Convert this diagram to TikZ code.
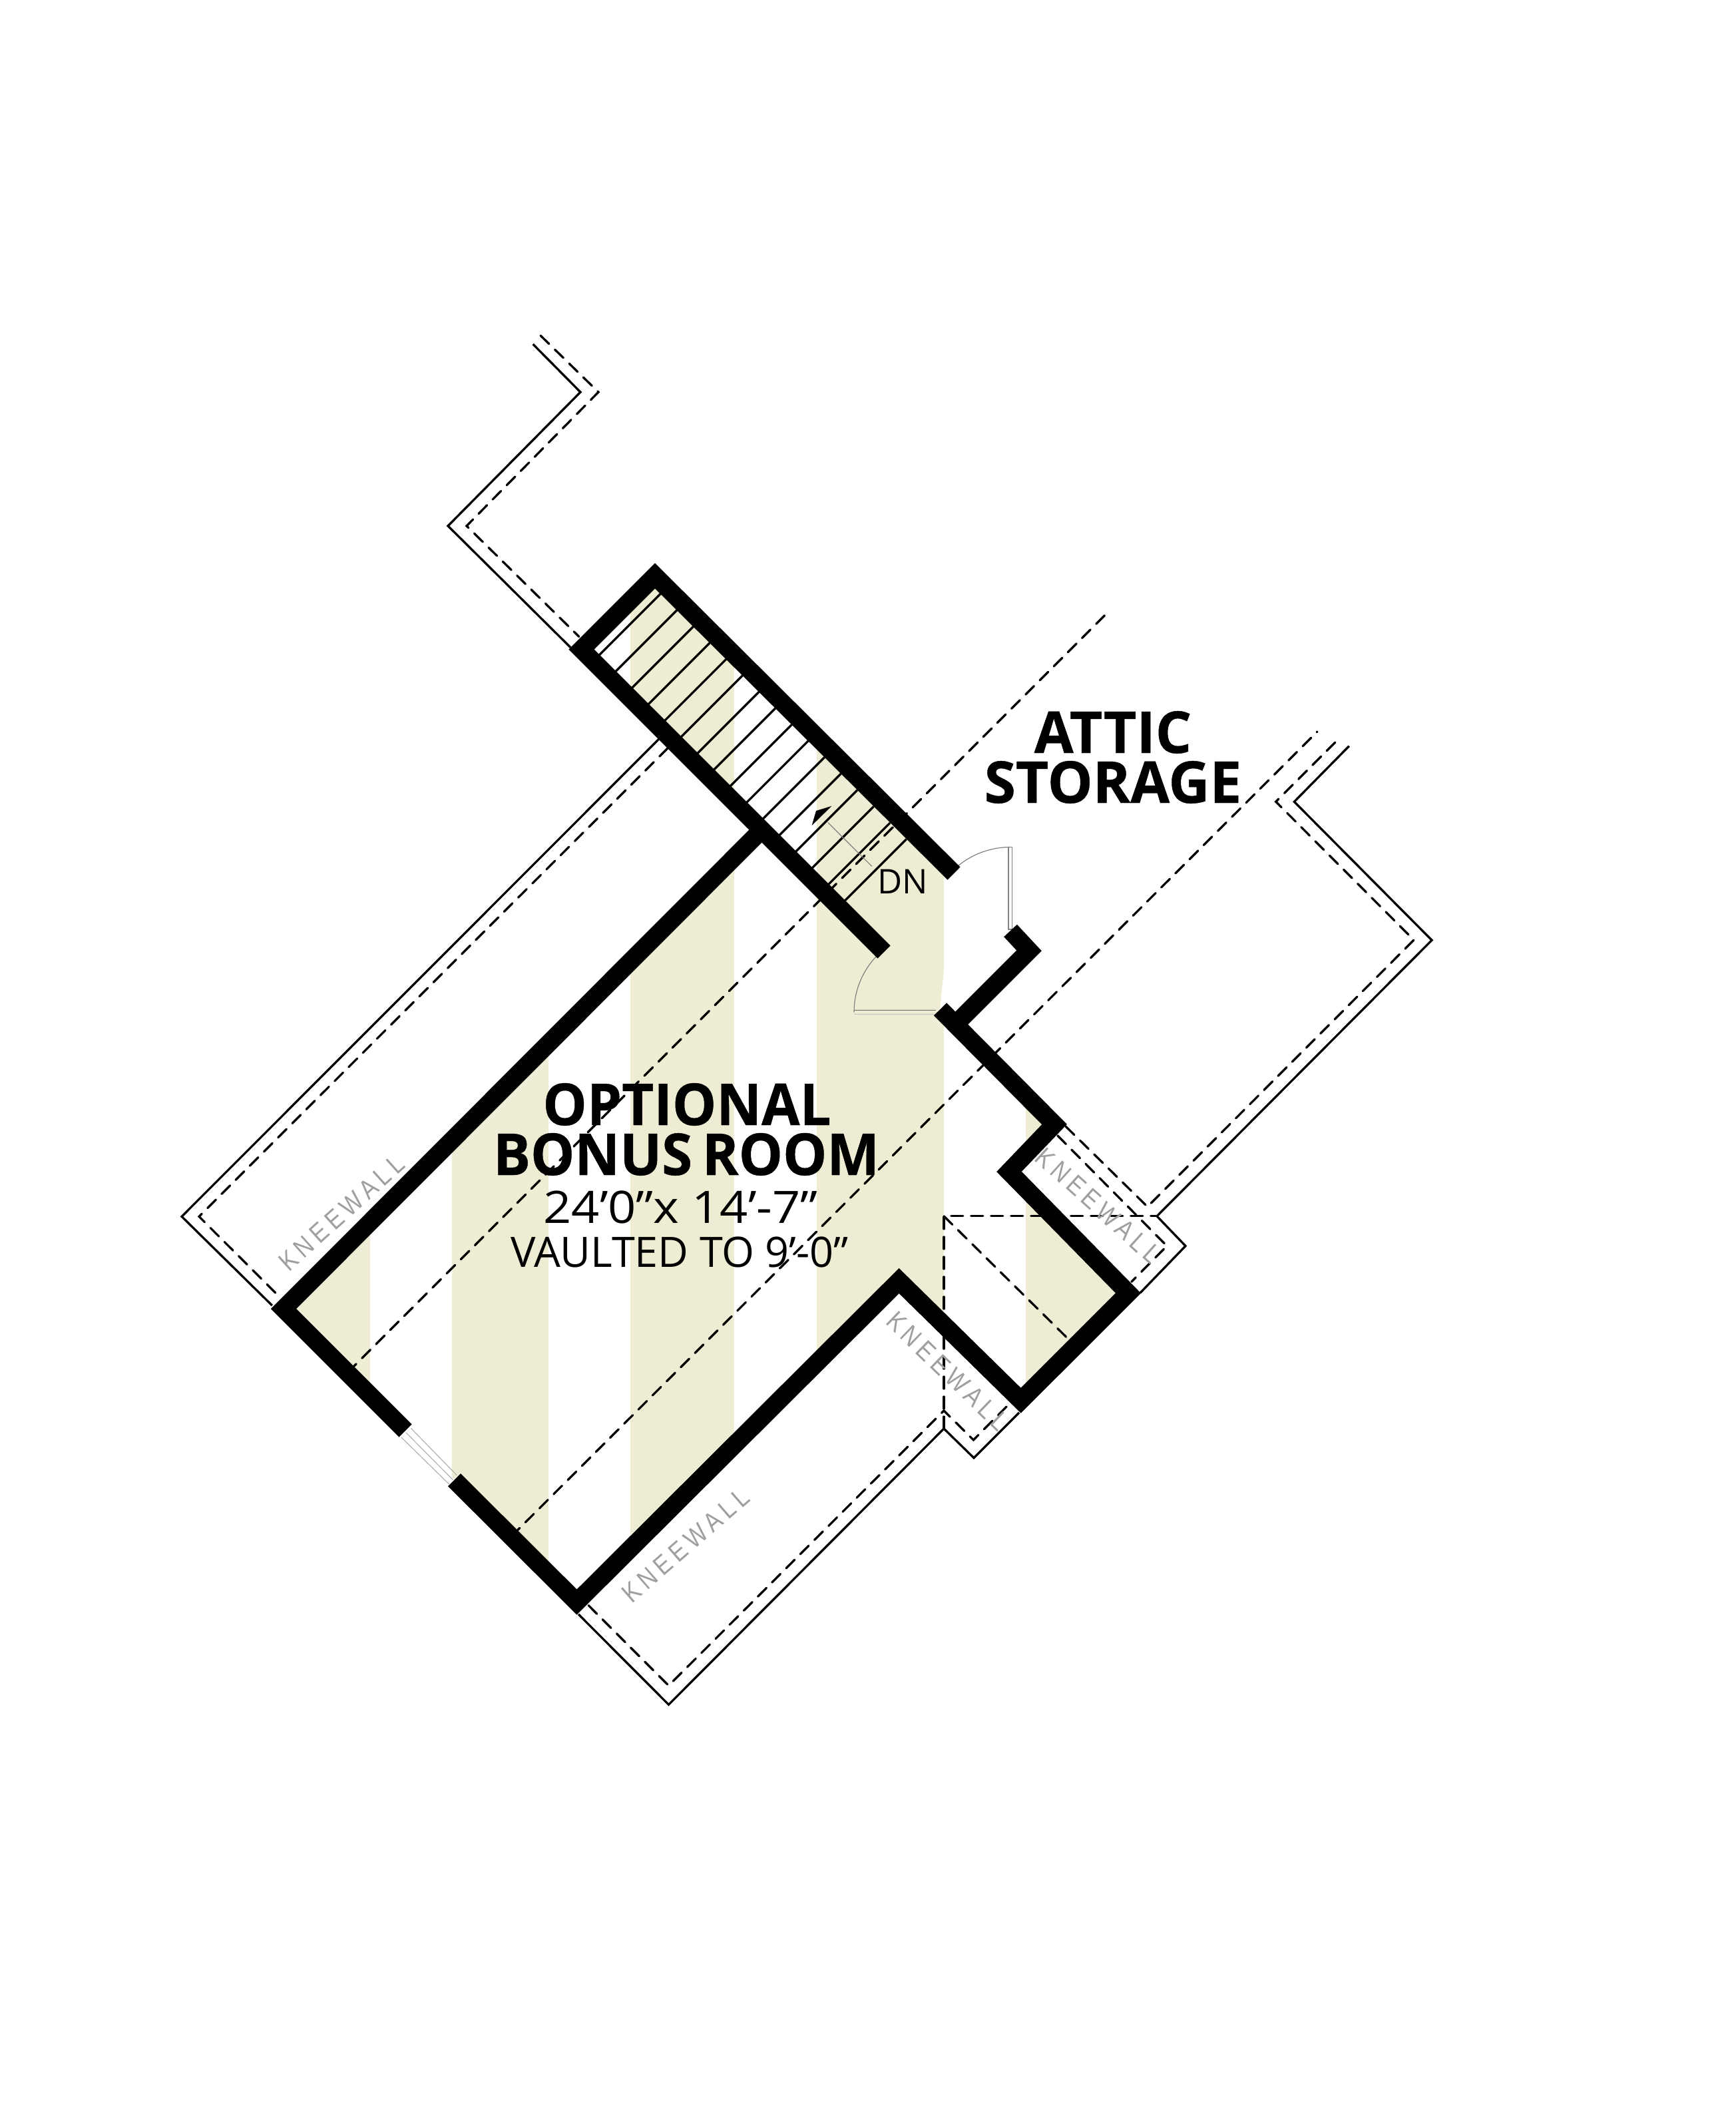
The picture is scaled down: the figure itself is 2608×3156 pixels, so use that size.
\documentclass[tikz,border=0pt]{standalone}
\usepackage{xcolor}
\usepackage{fontspec}
\usetikzlibrary{positioning}
\setmainfont{Open Sans}
\newfontfamily\titlefont[BoldFeatures={FakeStretch=0.96,FakeBold=0.5}]{Open Sans}
\newfontfamily\atticfont[BoldFeatures={FakeStretch=0.985,FakeBold=0.5}]{Open Sans}
\newfontfamily\sizefont[FakeStretch=1.1]{Open Sans}
\newfontfamily\kneefont[LetterSpace=18,FakeStretch=0.85]{Liberation Sans}
\definecolor{bonusfill}{HTML}{EEECD2}
\tikzset{
  wallline/.style={line width=2.7mm, line join=miter, miter limit=10},
  thinline/.style={line width=.33mm, line join=miter},
  hiddenline/.style={line width=.33mm, line cap=round, dash pattern=on 1.8mm off 1.2mm},
  doorline/.style={line width=.12mm, gray},
  titletext/.style={anchor=base, inner sep=0pt, font=\titlefont\fontsize{24.7}{24.7}\selectfont\bfseries},
  attictext/.style={anchor=base, inner sep=0pt, font=\atticfont\fontsize{24.7}{24.7}\selectfont\bfseries},
  sizetext/.style={anchor=base, inner sep=0pt, font=\sizefont\fontsize{19.1}{19.1}\selectfont},
  vaulttext/.style={anchor=base, inner sep=0pt, font=\fontsize{17.9}{17.9}\selectfont},
  kneetext/.style={inner sep=0pt, text=gray!75, font=\kneefont\fontsize{11.5}{11.5}\selectfont}
}
\begin{document}
\begin{tikzpicture}[x=.1mm, y=-.1mm]
  \useasboundingbox (0,0) rectangle (2608,3156);

  % stripes
  \begin{scope}
    \clip (984,865) -- (1433,1312) -- (1412,1516) -- (1584,1689) -- (1516,1760) -- (1695,1942)
      -- (1533.6,2103.7) -- (1350.6,1924) -- (866.5,2406.5) -- (426,1966) -- (1144.5,1246.5)
      -- (873.5,975.5) -- cycle;
    \fill[bonusfill] (300,700) rectangle (556,2600);
    \fill[bonusfill] (678.6,700) rectangle (824,2600);
    \fill[bonusfill] (947,700) rectangle (1103,2600);
    \fill[bonusfill] (1227,700) rectangle (1418,2600);
    \fill[bonusfill] (1541,700) rectangle (1800,2600);
  \end{scope}

  % outer kneewall and roof lines
  \draw[thinline] (800.7,517) -- (872,589) -- (673,790) -- (857,972.5);
  \draw[hiddenline] (812,504) -- (899,589) -- (701,790) -- (870,956.5);
  \draw[thinline] (990,1110) -- (273,1827.4) -- (408.8,1961);
  \draw[hiddenline] (1003.5,1123.5) -- (299,1827.4) -- (419.5,1947.7);
  \draw[thinline] (869,2424.8) -- (1004.5,2560.6) -- (1418,2146) -- (1463,2190) -- (1531,2122);
  \draw[hiddenline] (884,2411.4) -- (1004.5,2532) -- (1418,2119) -- (1462.4,2163) -- (1516,2109);
  \draw[thinline] (1713,1942) -- (1781,1871.6) -- (1738,1826.8) -- (2151,1412.3) -- (1944.3,1204.3) -- (2026.7,1120.7);
  \draw[hiddenline] (1601,1692) -- (1723.8,1812.7) -- (2124,1412) -- (1916.7,1204.3) -- (2012.7,1108.3);
  \draw[hiddenline] (1588.7,1705.7) -- (1753,1871.6) -- (1699.7,1925.5);
  \draw[hiddenline] (522.5,2061.5) -- (1660,924);
  \draw[hiddenline] (768,2308) -- (1979,1099);
  \draw[hiddenline] (1418,2146) -- (1418,1826.8) -- (1738,1826.8);
  \draw[hiddenline] (1418,1826.8) -- (1606,2012.5);

  % stair
  \foreach \tx in {0,...,15}
    \draw[thinline] (900+\tx*24.6,984.3+\tx*24.6) -- (992.65+\tx*24.6,891.65+\tx*24.6);
  \fill (1249.5,1210.7) -- (1226,1218) -- (1219.6,1240) -- cycle;
  \draw[doorline] (1243.8,1235.6) -- (1309.8,1301.4);

  % doors and window
  \draw[doorline] (1518,1272.5) arc[start angle=270, end angle=231, radius=124.5];
  \draw[doorline] (1515,1272.7) rectangle (1520.5,1396);
  \draw[doorline] (1283,1520.5) arc[start angle=180, end angle=224, radius=122];
  \draw[doorline, gray!80!black] (1283,1517.7) -- (1405.8,1517.7);
  \draw[doorline, gray!50] (1283,1523.8) -- (1405.8,1523.8);
  \draw[doorline, gray!60] (617.4,2145.4) -- (686.3,2216);
  \draw[doorline, gray!60] (610,2152) -- (680.5,2223);
  \draw[doorline, gray!60] (602.8,2159) -- (674.8,2229.6);

  % walls
  \draw[wallline] (1433,1312) -- (984,865) -- (873.5,975.5) -- (1328,1430);
  \draw[wallline] (1144.5,1246.5) -- (426,1966) -- (609,2149);
  \draw[wallline] (682.5,2223) -- (866.5,2406.5) -- (1350.6,1924) -- (1533.6,2103.7) -- (1695,1942.5)
    -- (1516,1760) -- (1584,1689) -- (1412.5,1516);
  \draw[wallline] (1435,1539) -- (1546,1428) -- (1518,1398);

  % labels
  \node[attictext] (attic) at (1672,1131) {ATTIC};
  \node[attictext] (storage) at (1672,1206) {STORAGE};
  \node[anchor=base, inner sep=0pt, font=\fontsize{14.5}{14.5}\selectfont] (dn) at (1356.6,1342.8) {DN};
  \node[titletext] (optional) at (1032,1690) {OPTIONAL};
  \node[titletext] (bonus) at (1031,1765) {BONUS\hspace{-.08em} ROOM};
  \node[sizetext] (roomsize) at (1022.5,1837) {24’0”x 14’-7”};
  \node[vaulttext] (vault) at (1021,1903) {VAULTED TO 9’-0”};
  \node[kneetext, rotate=42] (kneeleft) at (513,1822) {KNEEWALL};
  \node[kneetext, rotate=41] (kneebottom) at (1030,2321) {KNEEWALL};
  \node[kneetext, rotate=-44] (kneemid) at (1424,2060) {KNEEWALL};
  \node[kneetext, rotate=-42] (kneeright) at (1650,1811) {KNEEWALL};
\end{tikzpicture}
\end{document}
